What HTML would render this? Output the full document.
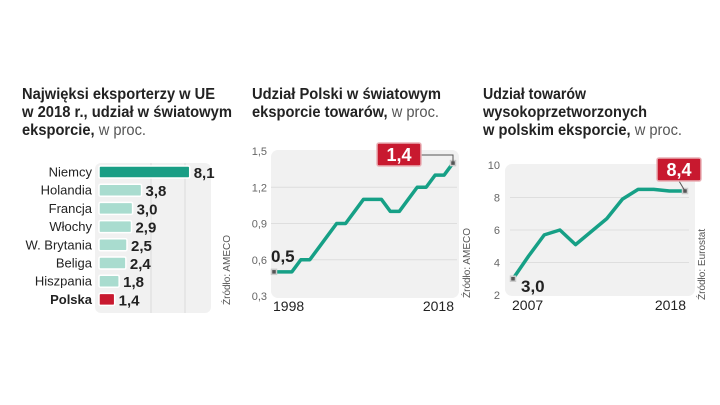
<!DOCTYPE html>
<html><head><meta charset="utf-8"><style>
html,body{margin:0;padding:0;background:#fff;}
svg{display:block;font-family:"Liberation Sans",sans-serif;}
</style></head><body>
<svg width="720" height="405" viewBox="0 0 720 405">
<g id="c1">
<text x="22" y="99" font-size="16" font-weight="bold" fill="#222" textLength="193" lengthAdjust="spacingAndGlyphs">Najwięksi eksporterzy w UE</text>
<text x="22" y="117" font-size="16" font-weight="bold" fill="#222" textLength="210" lengthAdjust="spacingAndGlyphs">w 2018 r., udział w światowym</text>
<text x="22" y="135" font-size="16" fill="#222" textLength="124" lengthAdjust="spacingAndGlyphs"><tspan font-weight="bold">eksporcie,</tspan><tspan fill="#555"> w proc.</tspan></text>
<rect x="95" y="163" width="116" height="150" rx="6" fill="#f1f1f1"/>
<line x1="151" y1="163" x2="151" y2="313" stroke="#dcdcdc"/>
<line x1="185" y1="163" x2="185" y2="313" stroke="#dcdcdc"/>
<text x="230" y="305" font-size="10" fill="#555" transform="rotate(-90 230 305)">Źródło: AMECO</text>
</g>
<g id="c2">
<text x="252" y="99" font-size="16" font-weight="bold" fill="#222" textLength="189" lengthAdjust="spacingAndGlyphs">Udział Polski w światowym</text>
<text x="252" y="117" font-size="16" fill="#222" textLength="187" lengthAdjust="spacingAndGlyphs"><tspan font-weight="bold">eksporcie towarów,</tspan><tspan fill="#555"> w proc.</tspan></text>
<rect x="271" y="150" width="188" height="148" rx="7" fill="#f1f1f1"/>
<text x="470" y="298" font-size="10" fill="#555" transform="rotate(-90 470 298)">Źródło: AMECO</text>
</g>
<g id="c3">
<text x="483" y="99" font-size="16" font-weight="bold" fill="#222" textLength="103" lengthAdjust="spacingAndGlyphs">Udział towarów</text>
<text x="483" y="117" font-size="16" font-weight="bold" fill="#222" textLength="164" lengthAdjust="spacingAndGlyphs">wysokoprzetworzonych</text>
<text x="483" y="135" font-size="16" fill="#222" textLength="199" lengthAdjust="spacingAndGlyphs"><tspan font-weight="bold">w polskim eksporcie,</tspan><tspan fill="#555"> w proc.</tspan></text>
<rect x="505" y="164" width="190" height="132" rx="7" fill="#f1f1f1"/>
<text x="705" y="300" font-size="10" fill="#555" transform="rotate(-90 705 300)">Źródło: Eurostat</text>
</g>
</svg>
<script>
const barCategories=["Niemcy","Holandia","Francja","Włochy","W. Brytania","Beliga","Hiszpania","Polska"];
const barValues=[8.1,3.8,3.0,2.9,2.5,2.4,1.8,1.4];
const line1Years=[1998,1999,2000,2001,2002,2003,2004,2005,2006,2007,2008,2009,2010,2011,2012,2013,2014,2015,2016,2017,2018];
const line1Values=[0.5,0.5,0.5,0.6,0.6,0.7,0.8,0.9,0.9,1.0,1.1,1.1,1.1,1.0,1.0,1.1,1.2,1.2,1.3,1.3,1.4];
const line1Ticks=[0.3,0.6,0.9,1.2,1.5];
const line2Years=[2007,2008,2009,2010,2011,2012,2013,2014,2015,2016,2017,2018];
const line2Values=[3.0,4.4,5.7,6.0,5.1,5.9,6.7,7.9,8.5,8.5,8.4,8.4];
const line2Ticks=[2,4,6,8,10];
const NS="http://www.w3.org/2000/svg";
function mk(parent,tag,attrs,txt){const e=document.createElementNS(NS,tag);for(const k in attrs)e.setAttribute(k,attrs[k]);if(txt!==undefined)e.textContent=txt;parent.appendChild(e);return e;}
const fmt=v=>v.toFixed(1).replace('.',',');
// bar chart
(function(){
const g=document.getElementById('c1');
const x0=99,k=11.2,y0=172,step=18.2,h=12;
barCategories.forEach((c,i)=>{
const y=y0+i*step;const pl=c==="Polska";
const lab=mk(g,'text',{x:92,y:y+4.5,'font-size':13,'text-anchor':'end',fill:'#222','font-weight':pl?'bold':'normal'},c);


const w=barValues[i]*k;
const fill=i===0?'#1a9e85':(pl?'#c8192f':'#a9dccf');
const r=mk(g,'rect',{x:x0,y:y-h/2,width:w,height:h,rx:1.5,fill:fill,stroke:'#fff','stroke-width':1.5});


const v=mk(g,'text',{x:x0+w+4,y:y+6,'font-size':15,'font-weight':'bold',fill:'#222'},fmt(barValues[i]));


});
})();
function lineChart(id,years,vals,ticks,X0,X1,Y0,Y1,tickX,tickDec,firstLab,lastBox){
const g=document.getElementById(id);
const xs=y=>X0+(y-years[0])/(years[years.length-1]-years[0])*(X1-X0);
const ys=v=>Y0-(v-ticks[0])/(ticks[ticks.length-1]-ticks[0])*(Y0-Y1);
ticks.forEach((t,i)=>{
if(i>0&&i<ticks.length-1){const l=mk(g,'line',{x1:X0-3,x2:X1+4,y1:ys(t),y2:ys(t),stroke:'#dedede'});

}
const tt=mk(g,'text',{x:tickX,y:ys(t)+4,'font-size':11,fill:'#666','text-anchor':'end'},tickDec?t.toFixed(1).replace('.',','):String(t));


});
const pts=years.map((y,i)=>xs(y)+','+ys(vals[i])).join(' ');
const p=mk(g,'polyline',{points:pts,fill:'none',stroke:'#16a086','stroke-width':3.5,'stroke-linejoin':'round'});


[0,years.length-1].forEach(i=>{
const d=mk(g,'rect',{x:xs(years[i])-2.5,y:ys(vals[i])-2.5,width:5,height:5,fill:'#555',stroke:'#ccc','stroke-width':1.5});


});
const a=mk(g,'text',{x:X0-1,y:Y0+15,'font-size':14,fill:'#222'},String(years[0]));


const b=mk(g,'text',{x:X1+1,y:Y0+15,'font-size':14,fill:'#222','text-anchor':'end'},String(years[years.length-1]));


const f=mk(g,'text',{x:xs(years[0])+firstLab[0],y:ys(vals[0])+firstLab[1],'font-size':17,'font-weight':'bold',fill:'#222'},fmt(vals[0]));


const lx=xs(years[years.length-1]),ly=ys(vals[vals.length-1]);
const [bx,by]=lastBox;
const c=mk(g,'polyline',{points:lastBox[2]?`${bx+22},${by+23} ${lx},${ly}`:`${bx+44},${by+12} ${lx},${by+12} ${lx},${ly}`,fill:'none',stroke:'#555','stroke-width':1});


const r=mk(g,'rect',{x:bx,y:by,width:44,height:23,rx:2,fill:'#c8192f',stroke:'#e9b0b6','stroke-width':1.5});


const t=mk(g,'text',{x:bx+22,y:by+18,'font-size':18,'font-weight':'bold',fill:'#fff','text-anchor':'middle'},fmt(vals[vals.length-1]));


}
lineChart('c2',line1Years,line1Values,line1Ticks,274,453,296,151,267,true,[-3,-10],[377,143,false]);
lineChart('c3',line2Years,line2Values,line2Ticks,513,685,295,165,500,false,[8,13],[657,158,true]);
</script>
</body></html>
